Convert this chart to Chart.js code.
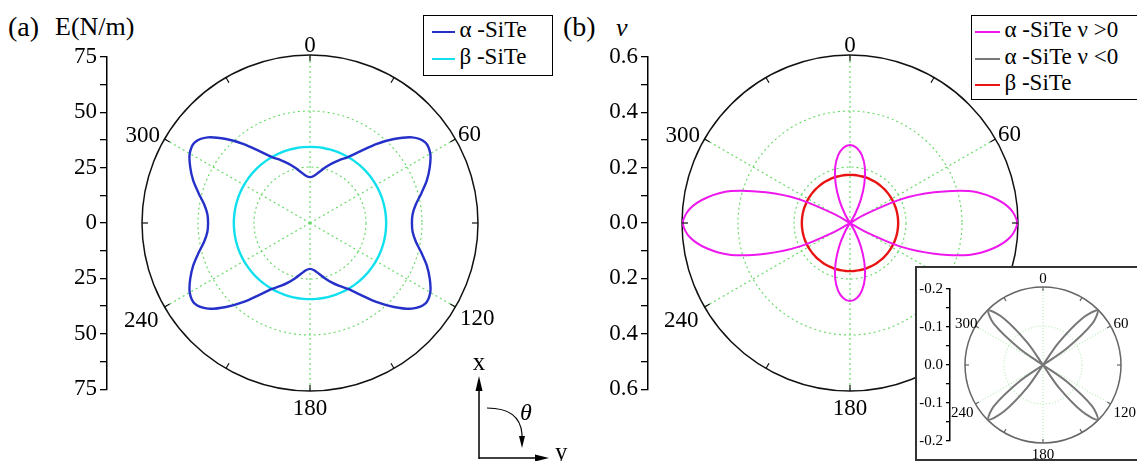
<!DOCTYPE html>
<html>
<head>
<meta charset="utf-8">
<title>SiTe polar plots</title>
<script src="https://cdn.jsdelivr.net/npm/chart.js@4.4.1/dist/chart.umd.min.js"></script>
<style>
  html, body { margin: 0; padding: 0; }
  body { position: relative; width: 1137px; height: 461px; overflow: hidden; background: #fff;
         font-family: "Liberation Serif", "Times New Roman", serif; color: #000; }
  canvas, .txt, .legend, .inset, svg { position: absolute; }
  .txt { font-size: 26px; line-height: 1; white-space: nowrap; }
  .legend { background: #fff; border: 1.5px solid #000; box-sizing: border-box; font-size: 23px; white-space: nowrap; }
  .legend .row { position: relative; height: 27px; line-height: 27px; }
  .legend .swatch { position: absolute; top: 15px; height: 2px; }
  .inset { background: #fff; border: 2px solid #333; box-sizing: border-box; }
</style>
</head>
<body>
<div class="txt" style="left:8px;top:13px;font-size:28px;">(a)</div>
<div class="txt" style="left:55px;top:14px;">E(N/m)</div>
<div class="txt" style="left:563px;top:13px;font-size:28px;">(b)</div>
<div class="txt" style="left:616px;top:15px;font-style:italic;">ν</div>

<canvas id="axisA" width="90" height="366" style="left:37px;top:40px;"></canvas>
<canvas id="polarA" width="420" height="400" style="left:100px;top:23px;"></canvas>
<div id="legendA" class="legend" style="left:423px;top:15px;width:130px;height:61px;"></div>

<canvas id="axisB" width="90" height="366" style="left:578px;top:40px;"></canvas>
<canvas id="polarB" width="420" height="400" style="left:640px;top:23px;"></canvas>
<div id="legendB" class="legend" style="left:971px;top:15px;width:200px;height:85px;"></div>

<div class="inset" style="left:915px;top:266px;width:240px;height:195px;"></div>
<canvas id="axisC" width="60" height="176" style="left:910px;top:277px;"></canvas>
<canvas id="polarC" width="216" height="196" style="left:935px;top:267px;"></canvas>

<svg width="120" height="111" style="left:460px;top:350px;overflow:visible" font-family="Liberation Serif">
  <line x1="19" y1="109" x2="19" y2="38" stroke="#000" stroke-width="1.5"/>
  <polygon points="19,26 15.5,41 22.5,41" fill="#000"/>
  <line x1="19" y1="108" x2="80" y2="108" stroke="#000" stroke-width="1.5"/>
  <polygon points="89,108 75,104.5 75,111.5" fill="#000"/>
  <text x="19" y="20" font-size="25" text-anchor="middle">x</text>
  <text x="95" y="110" font-size="25">y</text>
  <path d="M27 58 Q60 58 62 84 L62 88" fill="none" stroke="#000" stroke-width="1.2"/>
  <polygon points="62,98 59,86 65,86" fill="#000"/>
  <text x="60" y="70" font-size="24" font-style="italic">θ</text>
</svg>

<script>
// polar angle (deg), 0 = x axis at top, clockwise towards y
const ANGLES = [0, 5, 10, 15, 20, 25, 30, 35, 40, 45, 50, 55, 60, 65, 70, 75, 80, 85,
                90, 95, 100, 105, 110, 115, 120, 125, 130, 135, 140, 145, 150, 155, 160, 165, 170, 175,
                180, 185, 190, 195, 200, 205, 210, 215, 220, 225, 230, 235, 240, 245, 250, 255, 260, 265,
                270, 275, 280, 285, 290, 295, 300, 305, 310, 315, 320, 325, 330, 335, 340, 345, 350, 355];
const ANGLE_TICKS = [0, 60, 120, 180, 240, 300];

// (a) Young's modulus, N/m
const E_ALPHA = [20.5, 21.2, 23, 25.5, 28.2, 31, 34, 39, 46, 53, 59.5, 62.8, 62, 59, 55.5, 51.5, 48, 46,
                 45.5, 46, 48, 51.5, 55.5, 59, 62, 62.8, 59.5, 53, 46, 39, 34, 31, 28.2, 25.5, 23, 21.2,
                 20.5, 21.2, 23, 25.5, 28.2, 31, 34, 39, 46, 53, 59.5, 62.8, 62, 59, 55.5, 51.5, 48, 46,
                 45.5, 46, 48, 51.5, 55.5, 59, 62, 62.8, 59.5, 53, 46, 39, 34, 31, 28.2, 25.5, 23, 21.2];
const E_BETA = [34, 34, 34, 34, 34, 34, 34, 34, 34, 34, 34, 34, 34, 34, 34, 34, 34, 34,
                34, 34, 34, 34, 34, 34, 34, 34, 34, 34, 34, 34, 34, 34, 34, 34, 34, 34,
                34, 34, 34, 34, 34, 34, 34, 34, 34, 34, 34, 34, 34, 34, 34, 34, 34, 34,
                34, 34, 34, 34, 34, 34, 34, 34, 34, 34, 34, 34, 34, 34, 34, 34, 34, 34];

// (b) Poisson's ratio
const NU_ALPHA_POS = [0.279, 0.27, 0.245, 0.205, 0.15, 0.09, 0.035, 0, 0, 0, 0, 0, 0.06, 0.2, 0.32, 0.44, 0.52, 0.575,
                      0.597, 0.575, 0.52, 0.44, 0.32, 0.2, 0.06, 0, 0, 0, 0, 0, 0.035, 0.09, 0.15, 0.205, 0.245, 0.27,
                      0.279, 0.27, 0.245, 0.205, 0.15, 0.09, 0.035, 0, 0, 0, 0, 0, 0.06, 0.2, 0.32, 0.44, 0.52, 0.575,
                      0.597, 0.575, 0.52, 0.44, 0.32, 0.2, 0.06, 0, 0, 0, 0, 0, 0.035, 0.09, 0.15, 0.205, 0.245, 0.27];
// |nu| where nu < 0 (inset)
const NU_ALPHA_NEG = [0, 0, 0, 0, 0, 0, 0, 0.07, 0.155, 0.198, 0.165, 0.075, 0, 0, 0, 0, 0, 0,
                      0, 0, 0, 0, 0, 0, 0, 0.075, 0.165, 0.198, 0.155, 0.07, 0, 0, 0, 0, 0, 0,
                      0, 0, 0, 0, 0, 0, 0, 0.07, 0.155, 0.198, 0.165, 0.075, 0, 0, 0, 0, 0, 0,
                      0, 0, 0, 0, 0, 0, 0, 0.075, 0.165, 0.198, 0.155, 0.07, 0, 0, 0, 0, 0, 0];
const NU_BETA = [0.172, 0.172, 0.172, 0.172, 0.172, 0.172, 0.172, 0.172, 0.172, 0.172, 0.172, 0.172, 0.172, 0.172, 0.172, 0.172, 0.172, 0.172,
                 0.172, 0.172, 0.172, 0.172, 0.172, 0.172, 0.172, 0.172, 0.172, 0.172, 0.172, 0.172, 0.172, 0.172, 0.172, 0.172, 0.172, 0.172,
                 0.172, 0.172, 0.172, 0.172, 0.172, 0.172, 0.172, 0.172, 0.172, 0.172, 0.172, 0.172, 0.172, 0.172, 0.172, 0.172, 0.172, 0.172,
                 0.172, 0.172, 0.172, 0.172, 0.172, 0.172, 0.172, 0.172, 0.172, 0.172, 0.172, 0.172, 0.172, 0.172, 0.172, 0.172, 0.172, 0.172];

const E_MAX = 75, E_STEP = 25;
const NU_MAX = 0.6, NU_STEP = 0.2;
const NEG_MAX = 0.2, NEG_STEP = 0.1;

const GREEN = '#62d862';
const SERIF = 'Liberation Serif';
Chart.defaults.font.family = SERIF;

// angle tick marks + labels around the outer circle
function polarDecor(font, tickColor, tickLen, place) {
    return {
        id: 'polarDecor',
        afterDatasetsDraw(chart) {
            const r = chart.scales.r;
            const ctx = chart.ctx;
            const R = r.drawingArea;
            ctx.save();
            ctx.strokeStyle = tickColor;
            ctx.lineWidth = 1.2;
            chart.data.labels.forEach((a, i) => {
                if (a % 30) return;
                const p = r.getPointPosition(i, R);
                const q = r.getPointPosition(i, R - tickLen);
                ctx.beginPath(); ctx.moveTo(p.x, p.y); ctx.lineTo(q.x, q.y); ctx.stroke();
            });
            ctx.fillStyle = '#000';
            ctx.font = font;
            ctx.textBaseline = 'alphabetic';
            chart.data.labels.forEach((a, i) => {
                if (!ANGLE_TICKS.includes(a)) return;
                const p = r.getPointPosition(i, R);
                const [dx, dy, align] = place[a];
                ctx.textAlign = align;
                ctx.fillText(String(a), p.x + dx, p.y + dy);
            });
            ctx.restore();
        }
    };
}

function polarChart(id, datasets, max, step, pad, look) {
    const nTicks = Math.round(max / step);
    return new Chart(document.getElementById(id), {
        type: 'radar',
        data: { labels: ANGLES, datasets: datasets },
        options: {
            responsive: false, animation: false, events: [],
            layout: { padding: pad },
            plugins: { legend: { display: false }, tooltip: { enabled: false } },
            elements: { point: { radius: 0 }, line: { tension: 0.3, fill: false } },
            scales: {
                r: {
                    min: 0, max: max, startAngle: 0,
                    ticks: { display: false, stepSize: step },
                    pointLabels: { display: false },
                    grid: {
                        circular: true,
                        color: c => c.index === nTicks ? look.rim : look.grid,
                        lineWidth: c => c.index === nTicks ? 1.5 : 1.1
                    },
                    border: { dash: c => c.index === nTicks ? [] : look.dash },
                    angleLines: {
                        color: look.grid,
                        lineWidth: c => ANGLE_TICKS.includes(ANGLES[c.index]) ? 1.1 : 0,
                        borderDash: look.dash
                    }
                }
            }
        },
        plugins: [polarDecor(look.font, look.rim, look.tickLen, look.place)]
    });
}

function axisChart(id, max, step, fmt, fontSize, tickLen, w, pad) {
    return new Chart(document.getElementById(id), {
        type: 'scatter',
        data: { datasets: [] },
        options: {
            responsive: false, animation: false, events: [],
            layout: { padding: { top: pad, bottom: pad, left: 0, right: 0 } },
            plugins: { legend: { display: false }, tooltip: { enabled: false } },
            scales: {
                x: { display: false },
                y: {
                    min: -max, max: max,
                    afterFit: s => { s.width = w; },
                    ticks: { stepSize: step, maxTicksLimit: 60, autoSkip: false, callback: fmt,
                             color: '#000', padding: 3, font: { family: SERIF, size: fontSize } },
                    grid: { drawOnChartArea: false, color: '#000', lineWidth: 1.3, tickLength: tickLen },
                    border: { color: '#000', width: 1.5 }
                }
            }
        }
    });
}

const bigPlace = { 0: [0, -3, 'center'], 60: [2.5, 2, 'left'], 120: [4.5, 18, 'left'],
                   180: [0, 24, 'center'], 240: [-6, 20, 'right'], 300: [-4.5, 3, 'right'] };
const bigLook = { grid: GREEN, rim: '#111', dash: [2, 3], font: '23px "Liberation Serif"', tickLen: 6, place: bigPlace };
const bigPad = { left: 42, right: 42, top: 32, bottom: 32 };

// (a)
const chartA = polarChart('polarA', [
    { label: 'α -SiTe', data: E_ALPHA, borderColor: '#2530c8', borderWidth: 2.4 },
    { label: 'β -SiTe', data: E_BETA, borderColor: '#10e0ee', borderWidth: 2.4 }
], E_MAX, E_STEP, bigPad, bigLook);

axisChart('axisA', E_MAX, E_STEP / 2,
    v => (Math.round(v * 2) % (E_STEP * 2) === 0 ? String(Math.abs(v)) : ''), 23, 7, 70, 15);

// (b)
const chartB = polarChart('polarB', [
    { label: 'α -SiTe ν >0', data: NU_ALPHA_POS, borderColor: '#ee18ee', borderWidth: 2 },
    { label: 'β -SiTe', data: NU_BETA, borderColor: '#e81414', borderWidth: 2.4 }
], NU_MAX, NU_STEP, bigPad, bigLook);

axisChart('axisB', NU_MAX, NU_STEP / 2,
    v => (Math.round(v * 10) % 2 === 0 ? Math.abs(v).toFixed(1) : ''), 23, 7, 70, 15);

// inset: nu < 0
const smallPlace = { 0: [0, -4, 'center'], 60: [3, 2, 'left'], 120: [3, 13, 'left'],
                     180: [0, 16, 'center'], 240: [-2, 13, 'right'], 300: [2, 2, 'right'] };
const chartC = polarChart('polarC', [
    { label: 'α -SiTe ν <0', data: NU_ALPHA_NEG, borderColor: '#777', borderWidth: 2 }
], NEG_MAX, NEG_STEP, { left: 30, right: 30, top: 20, bottom: 20 },
   { grid: '#b4ecb4', rim: '#666', dash: [1, 2], font: '15px "Liberation Serif"', tickLen: 4, place: smallPlace });

axisChart('axisC', NEG_MAX, NEG_STEP / 2,
    v => {
        const k = Math.round(v * 20);
        if (k % 2) return '';
        return k === 0 ? '0.0' : '-' + Math.abs(v).toFixed(1);
    }, 15, 4, 40, 10);

// legends built from the datasets
function buildLegend(id, sets, rowH, swLeft, swW, textLeft) {
    const box = document.getElementById(id);
    sets.forEach(ds => {
        const row = document.createElement('div');
        row.className = 'row';
        row.style.height = rowH + 'px';
        const sw = document.createElement('span');
        sw.className = 'swatch';
        sw.style.left = swLeft + 'px';
        sw.style.width = swW + 'px';
        sw.style.background = ds.borderColor;
        const tx = document.createElement('span');
        tx.style.marginLeft = textLeft + 'px';
        tx.textContent = ds.label;
        row.appendChild(sw);
        row.appendChild(tx);
        box.appendChild(row);
    });
}
buildLegend('legendA', chartA.data.datasets, 27, 7.5, 23, 35.5);
buildLegend('legendB', [chartB.data.datasets[0], chartC.data.datasets[0], chartB.data.datasets[1]], 26.5, 3, 25, 32.5);
</script>
</body>
</html>
